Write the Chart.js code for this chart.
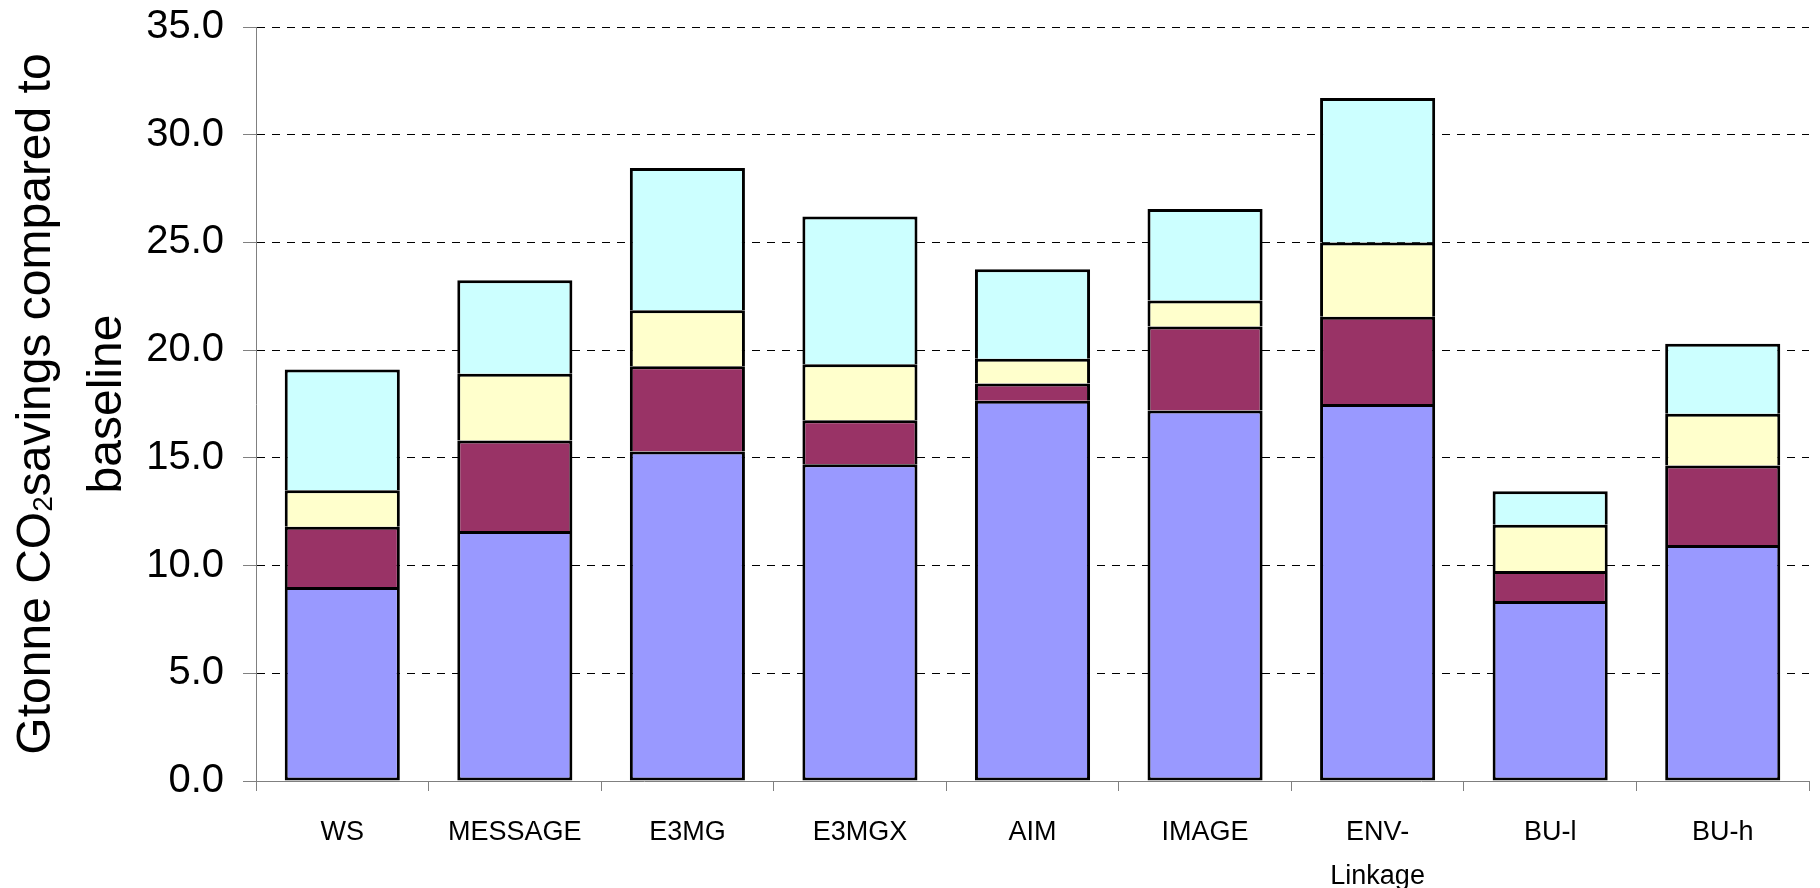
<!DOCTYPE html>
<html>
<head>
<meta charset="utf-8">
<script src="https://cdn.jsdelivr.net/npm/chart.js@4/dist/chart.umd.min.js"></script>
<style>
  html, body { margin: 0; padding: 0; background: #ffffff; }
  canvas { display: block; }
</style>
</head>
<body>
<canvas id="chart" width="1820" height="888"></canvas>
<script>
// Models compared (x categories)
const models = ['WS', 'MESSAGE', 'E3MG', 'E3MGX', 'AIM', 'IMAGE', ['ENV-', 'Linkage'], 'BU-l', 'BU-h'];

// Stacked CO2 savings per model, Gt, bottom to top
const seriesBlue   = [9.0, 11.6, 15.3, 14.7, 17.65, 17.2, 17.5, 8.35, 10.95];
const seriesMaroon = [2.8,  4.2,  3.95, 2.05, 0.8,  3.9,  4.05, 1.4,  3.7];
const seriesYellow = [1.7,  3.1,  2.6,  2.6,  1.15, 1.2,  3.45, 2.15, 2.4];
const seriesCyan   = [5.6,  4.35, 6.6,  6.85, 4.15, 4.25, 6.7,  1.55, 3.25];

// Value axis labels
const yTickLabels = ['0.0', '5.0', '10.0', '15.0', '20.0', '25.0', '30.0', '35.0'];

// Value axis title: first line is split around the subscript "2"
const yTitleLine1 = ['Gtonne CO', '2', 'savings compared to'];
const yTitleLine2 = 'baseline';

const FONT = '"Liberation Sans", Arial, Helvetica, sans-serif';

// Draws the rotated two-line axis title with a subscript
const yTitlePlugin = {
  id: 'yTitle',
  afterDraw(chart) {
    const { ctx, chartArea } = chart;
    const cy = (chartArea.top + chartArea.bottom) / 2;
    const big = '48px ' + FONT;
    const small = '28px ' + FONT;

    ctx.save();
    ctx.fillStyle = '#000000';
    ctx.textBaseline = 'alphabetic';
    ctx.textAlign = 'left';

    // line 1
    ctx.font = big;
    const w1 = ctx.measureText(yTitleLine1[0]).width;
    const w3 = ctx.measureText(yTitleLine1[2]).width;
    ctx.font = small;
    const w2 = ctx.measureText(yTitleLine1[1]).width;
    const total = w1 + w2 + w3;

    ctx.save();
    ctx.translate(50, cy);
    ctx.rotate(-Math.PI / 2);
    let x = -total / 2;
    ctx.font = big;
    ctx.fillText(yTitleLine1[0], x, 0);
    x += w1;
    ctx.font = small;
    ctx.fillText(yTitleLine1[1], x, 2);
    x += w2;
    ctx.font = big;
    ctx.fillText(yTitleLine1[2], x, 0);
    ctx.restore();

    // line 2
    ctx.save();
    ctx.translate(121, cy);
    ctx.rotate(-Math.PI / 2);
    ctx.font = big;
    ctx.textAlign = 'center';
    ctx.fillText(yTitleLine2, 0, 0);
    ctx.restore();

    ctx.restore();
  }
};

const segment = (label, data, color, skipped) => ({
  label,
  data,
  backgroundColor: color,
  borderColor: '#000000',
  borderWidth: 3,
  borderSkipped: skipped,
  inflateAmount: 0,
  barPercentage: 0.667,
  categoryPercentage: 1.0
});

new Chart(document.getElementById('chart'), {
  type: 'bar',
  data: {
    labels: models,
    datasets: [
      segment('Series 1', seriesBlue, '#9999FF', false),
      segment('Series 2', seriesMaroon, '#993366', 'start'),
      segment('Series 3', seriesYellow, '#FFFFCC', 'start'),
      segment('Series 4', seriesCyan, '#CCFFFF', 'start')
    ]
  },
  options: {
    responsive: false,
    animation: false,
    devicePixelRatio: 1,
    layout: { padding: { top: 27, right: 11, bottom: 0, left: 0 } },
    plugins: {
      legend: { display: false },
      tooltip: { enabled: false }
    },
    scales: {
      x: {
        stacked: true,
        offset: true,
        grid: {
          offset: true,
          drawOnChartArea: false,
          drawTicks: true,
          tickLength: 10,
          color: '#808080',
          tickColor: '#808080',
          lineWidth: 1
        },
        border: { display: true, color: '#808080', width: 1 },
        ticks: {
          color: '#000000',
          font: { family: FONT, size: 27, lineHeight: 1.63 },
          padding: 20,
          maxRotation: 0,
          autoSkip: false
        },
        afterFit(scale) { scale.height = 107; }
      },
      y: {
        stacked: true,
        min: 0,
        max: 35,
        ticks: {
          stepSize: 5,
          color: '#000000',
          font: { family: FONT, size: 40 },
          padding: 19,
          callback: (value, index) => yTickLabels[index]
        },
        grid: {
          color: (c) => (c.tick && c.tick.value === 0 ? 'rgba(0,0,0,0)' : '#000000'),
          lineWidth: 1,
          drawTicks: true,
          tickLength: 13,
          tickColor: '#808080',
          tickBorderDash: []
        },
        border: { display: true, color: '#808080', width: 1, dash: [8, 7] },
        afterFit(scale) {
          scale.width = 256;
          scale.paddingTop = 0;
          scale.paddingBottom = 0;
        }
      }
    }
  },
  plugins: [yTitlePlugin]
});
</script>
</body>
</html>
